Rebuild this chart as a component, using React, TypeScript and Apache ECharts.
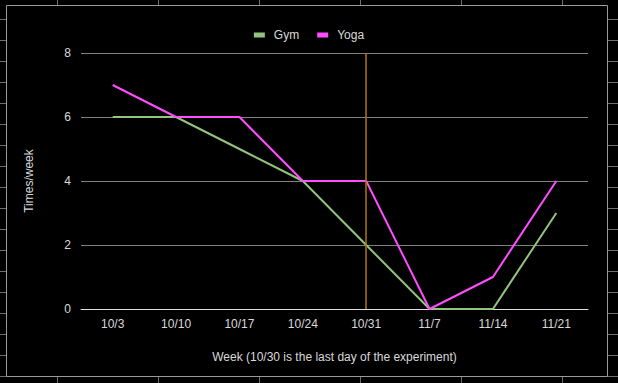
import React, { useEffect, useRef } from "react";
import * as echarts from "echarts";

const weeks = ["10/3", "10/10", "10/17", "10/24", "10/31", "11/7", "11/14", "11/21"];
const gym = [6, 6, 5, 4, 2, 0, 0, 3];
const yoga = [7, 6, 6, 4, 4, 0, 1, 4];
const experimentEnd = "10/31";
const yTicks = { min: 0, max: 8, interval: 2 };

// decorative spreadsheet cell lines behind the chart box
const cellCols = [57, 158, 259, 360, 461, 562];
const cellRows = [19, 40, 61, 82, 103, 124, 145, 166, 187, 208, 229, 250, 271, 292, 313, 334, 355, 376];

export default function App() {
  const ref = useRef<HTMLDivElement>(null);
  useEffect(() => {
    if (!ref.current) return;
    const chart = echarts.init(ref.current, undefined, { renderer: "svg" });
    const graphic: any[] = [];
    cellCols.forEach((x) =>
      graphic.push({ type: "line", silent: true, z: -20, shape: { x1: x + 0.5, y1: 0, x2: x + 0.5, y2: 383 }, style: { stroke: "#6e6e6e", lineWidth: 1 } })
    );
    cellRows.forEach((y) =>
      graphic.push({ type: "line", silent: true, z: -20, shape: { x1: 0, y1: y + 0.5, x2: 618, y2: y + 0.5 }, style: { stroke: "#6e6e6e", lineWidth: 1 } })
    );
    graphic.push({
      type: "rect",
      silent: true,
      z: -10,
      shape: { x: 6.5, y: 5.5, width: 601, height: 371 },
      style: { fill: "#000", stroke: "#9a9a9a", lineWidth: 1 },
    });
    chart.setOption({
      animation: false,
      backgroundColor: "#000",
      graphic,
      textStyle: { fontFamily: "Liberation Sans, Arial, sans-serif" },
      legend: {
        top: 24,
        left: "center",
        icon: "rect",
        itemWidth: 11,
        itemHeight: 5,
        itemGap: 18,
        textStyle: { color: "#d9d9d9", fontSize: 12, padding: [0, 0, 0, 4] },
        data: ["Gym", "Yoga"],
      },
      grid: { left: 81, right: 30, top: 53, bottom: 74 },
      xAxis: {
        type: "category",
        data: weeks,
        boundaryGap: true,
        name: "Week (10/30 is the last day of the experiment)",
        nameLocation: "middle",
        nameGap: 42,
        nameTextStyle: { color: "#d9d9d9", fontSize: 12 },
        axisLine: { lineStyle: { color: "#e0e0e0", width: 1 } },
        axisTick: { show: false },
        axisLabel: { color: "#d9d9d9", fontSize: 12, margin: 9 },
      },
      yAxis: {
        type: "value",
        min: yTicks.min,
        max: yTicks.max,
        interval: yTicks.interval,
        name: "Times/week",
        nameLocation: "middle",
        nameGap: 46,
        nameTextStyle: { color: "#d9d9d9", fontSize: 12 },
        axisLine: { show: false },
        axisTick: { show: false },
        axisLabel: { color: "#d9d9d9", fontSize: 12, margin: 10 },
        splitLine: { lineStyle: { color: "#808080", width: 1 } },
      },
      series: [
        {
          name: "Gym",
          type: "line",
          data: gym,
          showSymbol: false,
          symbol: "none",
          lineStyle: { color: "#93c47d", width: 2 },
          itemStyle: { color: "#93c47d" },
          z: 3,
          markLine: {
            silent: true,
            symbol: "none",
            label: { show: false },
            lineStyle: { color: "#b07a00", width: 1.5, type: "solid" },
            data: [{ xAxis: experimentEnd }],
          },
        },
        {
          name: "Yoga",
          type: "line",
          data: yoga,
          showSymbol: false,
          symbol: "none",
          lineStyle: { color: "#ff4dff", width: 2 },
          itemStyle: { color: "#ff4dff" },
          z: 4,
        },
      ],
    });
    return () => chart.dispose();
  }, []);
  return (
    <div
      ref={ref}
      style={{ position: "fixed", left: 0, top: 0, width: 618, height: 383 }}
    />
  );
}
